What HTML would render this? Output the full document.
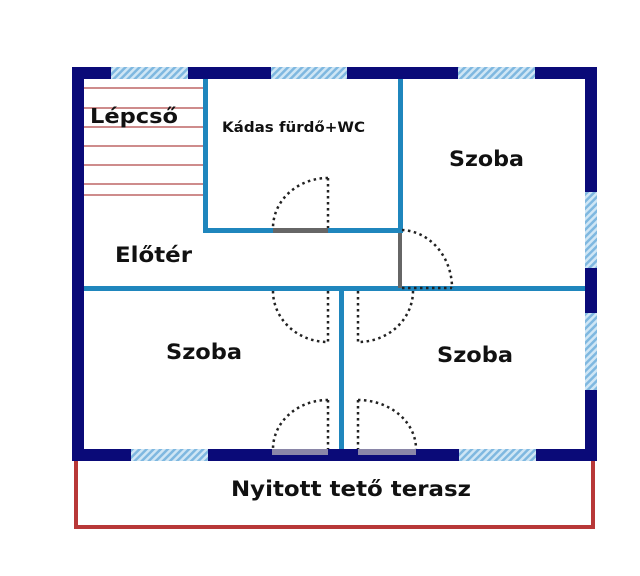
<!DOCTYPE html>
<html><head><style>body{margin:0;background:#fff}svg{display:block}text{font-family:"DejaVu Sans","Liberation Sans",sans-serif;font-weight:bold;fill:#111}</style></head><body>
<svg width="640" height="576" viewBox="0 0 640 576">
<defs><pattern id="h" width="5" height="5" patternUnits="userSpaceOnUse" patternTransform="rotate(45)"><rect width="5" height="5" fill="#cfe6f5"/><rect width="2.5" height="5" fill="#7fb8e0"/></pattern></defs>
<rect width="640" height="576" fill="#fff"/>
<polyline points="76,461 76,527 593,527 593,461" fill="none" stroke="#b83838" stroke-width="4"/>
<g stroke="#b04848" stroke-width="1.3">
<line x1="84" y1="88" x2="205" y2="88"/><line x1="84" y1="108" x2="205" y2="108"/><line x1="84" y1="127" x2="205" y2="127"/><line x1="84" y1="146" x2="205" y2="146"/><line x1="84" y1="165" x2="205" y2="165"/><line x1="84" y1="184" x2="205" y2="184"/><line x1="84" y1="195" x2="205" y2="195"/></g>
<g fill="#0a0a78">
<rect x="72" y="67" width="525" height="12"/><rect x="72" y="449" width="525" height="12"/>
<rect x="72" y="67" width="12" height="394"/><rect x="585" y="67" width="12" height="394"/></g>
<g fill="url(#h)">
<rect x="111" y="67" width="77" height="12"/><rect x="271" y="67" width="76" height="12"/><rect x="458" y="67" width="77" height="12"/>
<rect x="585" y="192" width="12" height="76"/><rect x="585" y="313" width="12" height="77"/>
<rect x="131" y="449" width="77" height="12"/><rect x="459" y="449" width="77" height="12"/></g>
<rect x="272" y="449" width="56" height="6" fill="#8a86a8"/><rect x="358" y="449" width="58" height="6" fill="#8a86a8"/>
<g fill="#1f86bd">
<rect x="203" y="79" width="5" height="154"/><rect x="203" y="228" width="200" height="5"/>
<rect x="398" y="79" width="5" height="154"/>
<rect x="84" y="286" width="501" height="5"/><rect x="339" y="286" width="5" height="163"/></g>
<rect x="273" y="228" width="55" height="5" fill="#666"/>
<rect x="398" y="233" width="4" height="55" fill="#666"/>
<g fill="none" stroke="#222" stroke-width="2.5" stroke-dasharray="2.5,3.5">
<line x1="328" y1="178" x2="328" y2="228"/><path d="M328,178 A55,50 0 0 0 273,228"/>
<line x1="402" y1="288" x2="452" y2="288"/><path d="M402,230 A52,58 0 0 1 452,288"/>
<line x1="328" y1="291" x2="328" y2="342"/><path d="M273,291 A55,51 0 0 0 328,342"/>
<line x1="358" y1="291" x2="358" y2="342"/><path d="M413,291 A55,51 0 0 1 358,342"/>
<line x1="328" y1="400" x2="328" y2="449"/><path d="M328,400 A55,49 0 0 0 273,449"/>
<line x1="358" y1="400" x2="358" y2="449"/><path d="M358,400 A58,49 0 0 1 416,449"/>
</g>
<text x="90" y="123" font-size="20" textLength="88" lengthAdjust="spacingAndGlyphs">Lépcső</text>
<text x="222" y="132" font-size="14.5" textLength="143" lengthAdjust="spacingAndGlyphs">Kádas fürdő+WC</text>
<text x="449" y="166" font-size="21" textLength="75" lengthAdjust="spacingAndGlyphs">Szoba</text>
<text x="115" y="262" font-size="21" textLength="77" lengthAdjust="spacingAndGlyphs">Előtér</text>
<text x="166" y="359" font-size="21" textLength="76" lengthAdjust="spacingAndGlyphs">Szoba</text>
<text x="437" y="362" font-size="21" textLength="76" lengthAdjust="spacingAndGlyphs">Szoba</text>
<text x="231" y="496" font-size="21" textLength="240" lengthAdjust="spacingAndGlyphs">Nyitott tető terasz</text>
</svg></body></html>
